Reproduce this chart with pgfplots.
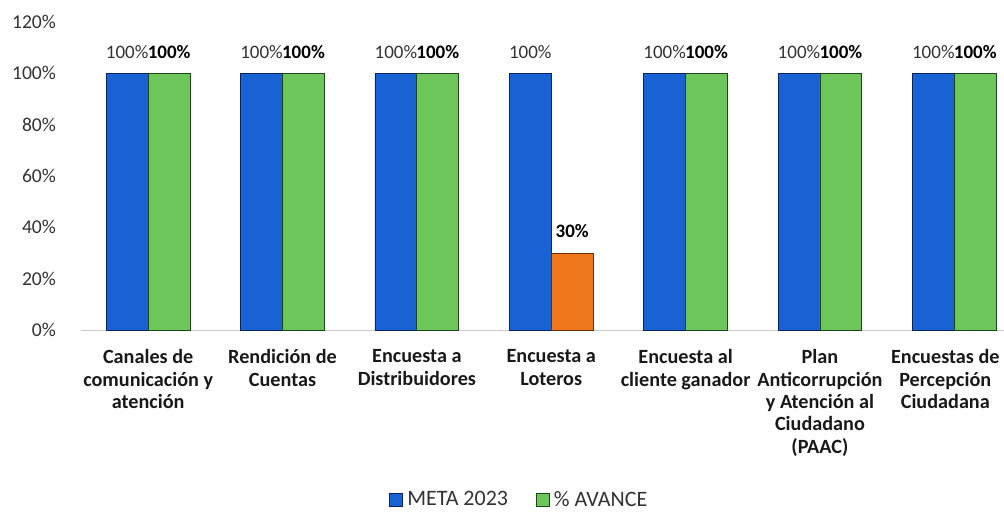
\documentclass[border=0pt]{standalone}
\usepackage{fontspec}
\setmainfont{Carlito}
\usepackage{pgfplots}
\pgfplotsset{compat=1.18}
\usetikzlibrary{calc}
\definecolor{cblue}{RGB}{24,98,212}
\definecolor{cblued}{RGB}{10,35,100}
\definecolor{cgreen}{RGB}{108,198,90}
\definecolor{cgreend}{RGB}{30,70,30}
\definecolor{corange}{RGB}{240,118,28}
\definecolor{coranged}{RGB}{110,45,10}
\begin{document}
\begin{tikzpicture}
\begin{axis}[
  scale only axis,
  width=461.5pt, height=154pt,
  xmin=-0.5, xmax=6.37,
  ymin=0, ymax=120,
  ytick={0,20,40,60,80,100,120},
  yticklabel={\pgfmathprintnumber{\tick}\%},
  /pgf/number format/assume math mode=true,
  yticklabel style={font=\fontsize{9.8}{12}\selectfont, color=black!80, xshift=-9pt},
  xtick={0,1,2,3,4,5},
  xticklabels={{Canales de\\comunicación y\\atención},{Rendición de\\Cuentas},{Encuesta a\\Distribuidores},{Encuesta a\\Loteros},{Encuesta al\\cliente ganador},{Plan\\Anticorrupción\\y Atención al\\Ciudadano\\(PAAC)}},
  extra x ticks={6},
  extra x tick labels={{Encuestas de\\Percepción\\Ciudadana}},
  extra x tick style={xticklabel style={xshift=-4.5pt}},
  xticklabel style={align=center, font=\bfseries\fontsize{10.1}{11.2}\selectfont, yshift=-2pt, color=black!90},
  tick style={draw=none},
  axis line style={draw=none},
  ybar, bar width=0.312,
  clip=false,
  nodes near coords={\pgfmathprintnumber{\pgfplotspointmeta}\%},
  every node near coord/.append style={anchor=base, yshift=7.5pt, font=\fontsize{9.5}{11}\selectfont},
  legend style={at={(0.476,-0.552)}, anchor=center, draw=none, legend columns=2, font=\fontsize{11}{13}\selectfont, text=black!80, /tikz/every even column/.append style={column sep=12pt}},
  legend image code/.code={\draw[#1] (0pt,-3pt) rectangle (6.5pt,3.5pt);},
]
\draw[black!20] (rel axis cs:0,0) -- (rel axis cs:1,0);
\addplot[fill=cblue, draw=cblued, bar shift=-0.156,
  every node near coord/.append style={color=black!80}]
  coordinates {(0,100) (1,100) (2,100) (3,100) (4,100) (5,100) (6,100)};
\addplot[fill=cgreen, draw=cgreend, bar shift=0.156,
  every node near coord/.append style={font=\bfseries\fontsize{9.5}{11}\selectfont, color=black}]
  coordinates {(0,100) (1,100) (2,100) (4,100) (5,100) (6,100)};
\addplot[fill=corange, draw=coranged, bar shift=0.156, forget plot,
  every node near coord/.append style={font=\bfseries\fontsize{9.5}{11}\selectfont, color=black}]
  coordinates {(3,30)};
\legend{META 2023,\% AVANCE}
\end{axis}
\pgfresetboundingbox
\path[use as bounding box] ($(current axis.south west)+(-40.5pt,-91pt)$) rectangle ($(current axis.north east)+(0pt,11pt)$);
\end{tikzpicture}
\end{document}
